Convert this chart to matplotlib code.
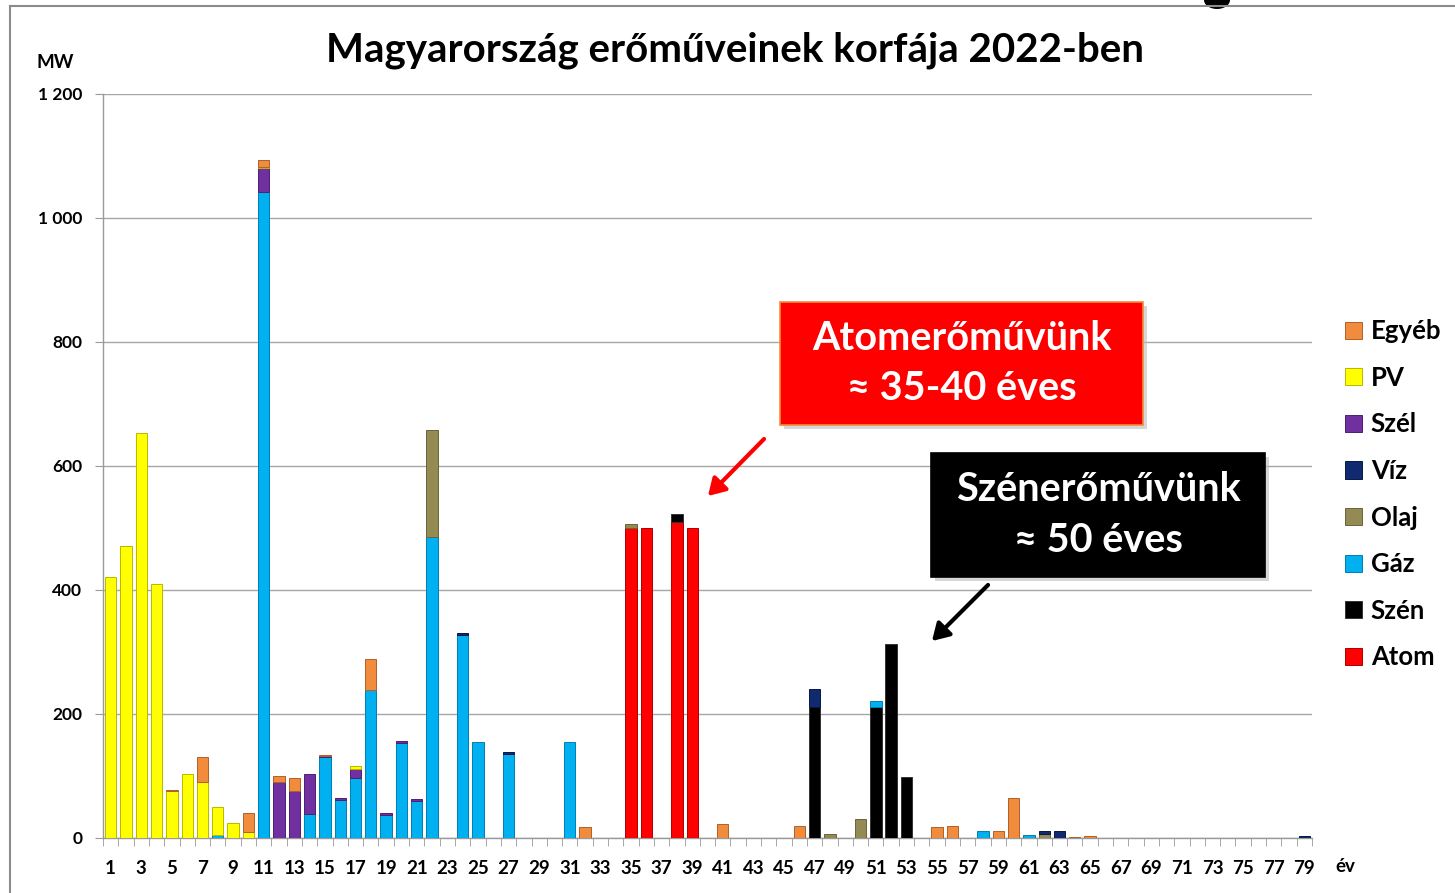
import matplotlib
matplotlib.use('Agg')
import matplotlib.pyplot as plt
import numpy as np
from matplotlib.patches import Rectangle, Ellipse, FancyArrowPatch
from matplotlib.lines import Line2D

plt.rcParams['font.family'] = ['Lato', 'DejaVu Sans']
plt.rcParams['font.weight'] = 'bold'

W, H = 1455, 893

ages = np.arange(1, 80)
odd_ticks = list(range(1, 80, 2))
yticks = [0, 200, 400, 600, 800, 1000, 1200]
ytick_labels = ['0', '200', '400', '600', '800', '1 000', '1 200']

# MW per age (year) and fuel type
atom = {35: 500, 36: 500, 38: 510, 39: 500}
szen = {38: 13, 47: 211, 51: 211, 52: 313, 53: 99}
gaz = {8: 5, 11: 1042, 14: 38, 15: 130, 16: 62, 17: 96, 18: 238, 19: 37,
       20: 154, 21: 60, 22: 485, 24: 327, 25: 155, 27: 135, 31: 155,
       51: 10, 58: 12, 61: 5}
olaj = {22: 173, 35: 6, 48: 6, 50: 30, 62: 7}
viz = {24: 4, 27: 3, 47: 29, 62: 5, 63: 12, 79: 4}
szel = {11: 38, 12: 90, 13: 76, 14: 65, 15: 2, 16: 3, 17: 16, 19: 4,
        20: 3, 21: 3}
pv = {1: 421, 2: 471, 3: 653, 4: 410, 5: 76, 6: 104, 7: 90, 8: 45, 9: 25,
      10: 9, 11: 3, 12: 1, 17: 4}
egyeb = {5: 1, 7: 40, 10: 32, 11: 10, 12: 9, 13: 20, 15: 2, 18: 50, 32: 18,
         41: 22, 46: 19, 55: 17, 56: 20, 59: 12, 60: 64, 64: 2, 65: 4}

# bottom to top in the stack
series = [
    ('Atom', atom, '#FF0000', '#B00000'),
    ('Szén', szen, '#000000', '#333333'),
    ('Gáz', gaz, '#00B0F0', '#0080B0'),
    ('Olaj', olaj, '#948A54', '#6B633A'),
    ('Víz', viz, '#0F2A6E', '#081840'),
    ('Szél', szel, '#7030A0', '#4E1F72'),
    ('PV', pv, '#FFFF00', '#B8B800'),
    ('Egyéb', egyeb, '#F08C3C', '#B0602A'),
]


def px(x, y):
    return x / W, 1 - y / H


fig = plt.figure(figsize=(W / 100, H / 100), dpi=100)
ax = fig.add_axes([103 / W, (H - 838) / H, (1312 - 103) / W, (838 - 94) / H])

bottom = np.zeros(len(ages))
handles = []
for name, data, color, edge in series:
    vals = np.array([data.get(a, 0) for a in ages], dtype=float)
    nz = vals > 0
    ax.bar(ages[nz], vals[nz], width=0.74, bottom=bottom[nz], color=color,
           edgecolor=edge, linewidth=0.7, zorder=3)
    bottom += vals
    handles.append(Rectangle((0, 0), 1, 1, facecolor=color, edgecolor=edge,
                             linewidth=0.7))

ax.set_xlim(0.5, 79.5)
ax.set_ylim(0, 1200)
ax.set_yticks(yticks)
ax.set_yticklabels(ytick_labels, fontsize=12.5, fontweight='bold')
ax.set_xticks(odd_ticks)
ax.set_xticklabels([str(t) for t in odd_ticks], fontsize=13.5, fontweight='bold')
ax.set_xticks(np.arange(0.5, 80, 1), minor=True)
ax.tick_params(axis='x', which='major', length=0, pad=16)
ax.tick_params(axis='x', which='minor', length=6, color='#999999')
ax.tick_params(axis='y', length=6, color='#999999', pad=9)
ax.grid(axis='y', color='#A6A6A6', linewidth=1.0, zorder=0)
for s in ['top', 'right']:
    ax.spines[s].set_visible(False)
for s in ['left', 'bottom']:
    ax.spines[s].set_color('#999999')
    ax.spines[s].set_linewidth(1.0)

fig.text(*px(735, 50), 'Magyarország erőműveinek korfája 2022-ben',
         ha='center', va='center', fontsize=29, fontweight='bold')
fig.text(*px(55, 62), 'MW', ha='center', va='center', fontsize=13.5,
         fontweight='bold')
fig.text(*px(1345, 866), 'év', ha='center', va='center', fontsize=13.5,
         fontweight='bold')

# legend, top entry = top of the stack
order = list(range(len(series)))[::-1]
fig.legend([handles[i] for i in order], [series[i][0] for i in order],
           loc='upper left', bbox_to_anchor=px(1322, 296), frameon=False,
           prop={'size': 18.5, 'weight': 'bold'}, labelspacing=0.88,
           handlelength=0.65, handleheight=0.65, handletextpad=0.35)

# callout boxes
for (x0, y0, x1, y1, fc, ec, txt) in [
        (780, 302, 1143, 425, '#FF0000', '#F08C3C', 'Atomerőművünk\n≈ 35-40 éves'),
        (931, 453, 1265, 577, '#000000', '#000000', 'Szénerőművünk\n≈ 50 éves')]:
    fig.patches.append(Rectangle(px(x0 + 4, y1 + 4), (x1 - x0) / W, (y1 - y0) / H,
                                 transform=fig.transFigure, facecolor='#BBBBBB',
                                 edgecolor='none', alpha=0.6, zorder=4))
    fig.patches.append(Rectangle(px(x0, y1), (x1 - x0) / W, (y1 - y0) / H,
                                 transform=fig.transFigure, facecolor=fc,
                                 edgecolor=ec, linewidth=1.2, zorder=5))
    fig.text(*px((x0 + x1) / 2, (y0 + y1) / 2), txt, ha='center', va='center',
             color='white', fontsize=28.5, fontweight='bold', linespacing=1.45,
             zorder=6)

for (xa, ya, xb, yb, c) in [(766, 437, 706, 498, '#FF0000'),
                            (990, 583, 930, 643, '#000000')]:
    fig.patches.append(FancyArrowPatch(px(xa, ya), px(xb, yb),
                                       transform=fig.transFigure,
                                       arrowstyle='-|>,head_length=10,head_width=6',
                                       color=c, linewidth=3, zorder=5))

# slide frame remnants
fig.add_artist(Line2D([10 / W, 10 / W], [0, 1 - 6 / H], transform=fig.transFigure,
                      color='#8C8C8C', linewidth=1.5))
fig.add_artist(Line2D([10 / W, 1], [1 - 6 / H, 1 - 6 / H], transform=fig.transFigure,
                      color='#8C8C8C', linewidth=1.5))
fig.patches.append(Ellipse(px(1217, 0), 26 / W, 18 / H, transform=fig.transFigure,
                           facecolor='black', edgecolor='none'))

fig.savefig('out.png', dpi=100)
